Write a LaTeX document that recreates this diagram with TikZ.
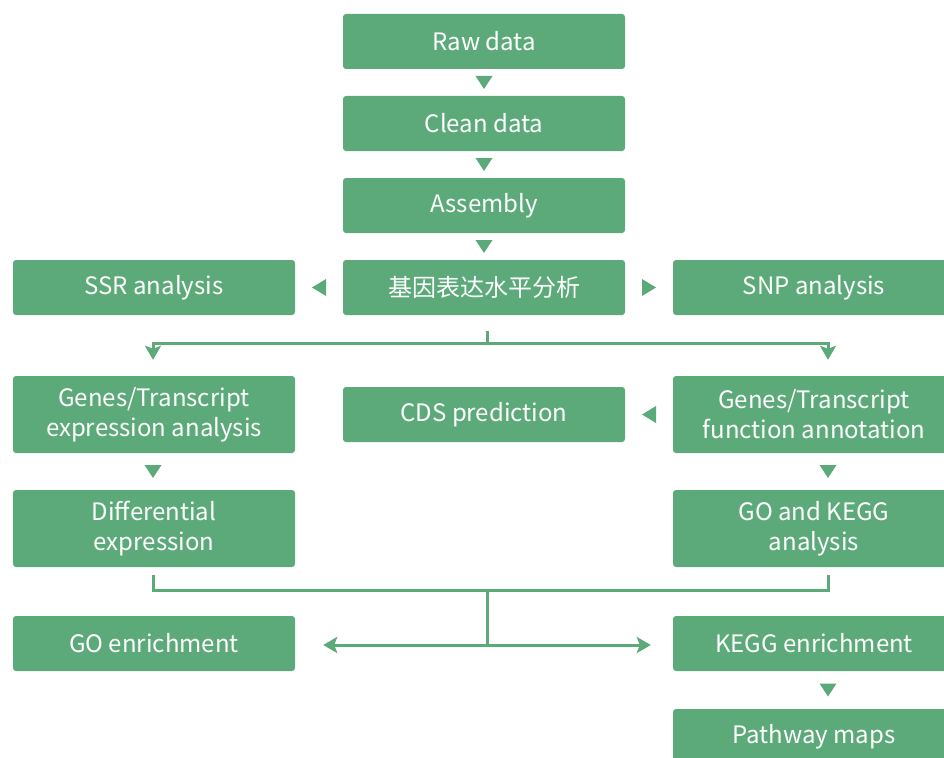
\documentclass[tikz,border=0pt]{standalone}
\usepackage{fontspec}
\setmainfont{Noto Sans CJK SC}
\usetikzlibrary{calc,arrows.meta}
\definecolor{gr}{HTML}{5CAA79}
\begin{document}
\begin{tikzpicture}[x=1pt,y=-1pt,
  box/.style={fill=gr,rounded corners=3pt,minimum width=282pt,minimum height=55pt,
    text=white,align=center,inner sep=0pt,font=\fontsize{24}{30}\selectfont},
  tall/.style={box,minimum height=77pt},
  ln/.style={draw=gr,line width=3pt},
  arr/.style={-{Stealth[length=14pt,width=16pt,inset=3pt]}},
  tdown/.pic={\fill[gr] (-8.5,-6.5) -- (8.5,-6.5) -- (0,6.5) -- cycle;},
  tleft/.pic={\fill[gr] (7,-8.5) -- (7,8.5) -- (-7,0) -- cycle;},
  tright/.pic={\fill[gr] (-7,-8.5) -- (-7,8.5) -- (7,0) -- cycle;}
]
\useasboundingbox (0,0) rectangle (944,757);

\node[box] (raw) at (484,41.5) {Raw data};
\node[box] (clean) at (484,123.5) {Clean data};
\node[box] (asm) at (484,205.5) {Assembly};
\node[box] (expr) at (484,287.5) {基因表达水平分析};
\node[box] (ssr) at (154,287.5) {SSR analysis};
\node[box] (snp) at (814,287.5) {SNP analysis};
\node[tall] (gexp) at (154,414.5) {Genes/Transcript\\expression analysis};
\node[box] (cds) at (484,414.5) {CDS prediction};
\node[tall] (gfun) at (814,414.5) {Genes/Transcript\\function annotation};
\node[tall] (diff) at (154,528.5) {Differential\\expression};
\node[tall] (gok) at (814,528.5) {GO and KEGG\\analysis};
\node[box] (goe) at (154,643.5) {GO enrichment};
\node[box] (kegg) at (814,643.5) {KEGG enrichment};
\node[box] (pmap) at (814,736.5) {Pathway maps};

% separators
\pic at ($(raw.south)!0.5!(clean.north)$) {tdown};
\pic at ($(clean.south)!0.5!(asm.north)$) {tdown};
\pic at ($(asm.south)!0.5!(expr.north)$) {tdown};
\pic at ($(ssr.east)!0.5!(expr.west)$) {tleft};
\pic at ($(expr.east)!0.5!(snp.west)$) {tright};
\pic at ($(cds.east)!0.5!(gfun.west)$) {tleft};
\pic at ($(gexp.south)!0.5!(diff.north)+(-1,0)$) {tdown};
\pic at ($(gfun.south)!0.5!(gok.north)+(14,0)$) {tdown};
\pic at ($(kegg.south)!0.5!(pmap.north)+(14,0)$) {tdown};

% branch from expression level
\coordinate (b1) at ($(expr.south)+(3,16)$);
\coordinate (h1) at ($(expr.south)+(3,28)$);
\draw[ln] (b1) -- (h1);
\draw[ln,arr] (h1) -| ($(gexp.north)+(-1,-16)$);
\draw[ln,arr] (h1) -| ($(gfun.north)+(14,-16)$);

% merge
\coordinate (j1) at ($(diff.south)+(-1,8)$);
\coordinate (j3) at ($(gok.south)+(14,8)$);
\draw[ln] (j1) -- ++(0,15) -| (j3);
\coordinate (j2) at (487,590);
\coordinate (j4) at (487,645);
\draw[ln] (j2) -- (j4);
\draw[ln,arr] (j4) -- ($(goe.east)+(28,1.5)$);
\draw[ln,arr] (j4) -- ($(kegg.west)+(-22,1.5)$);
\end{tikzpicture}
\end{document}
